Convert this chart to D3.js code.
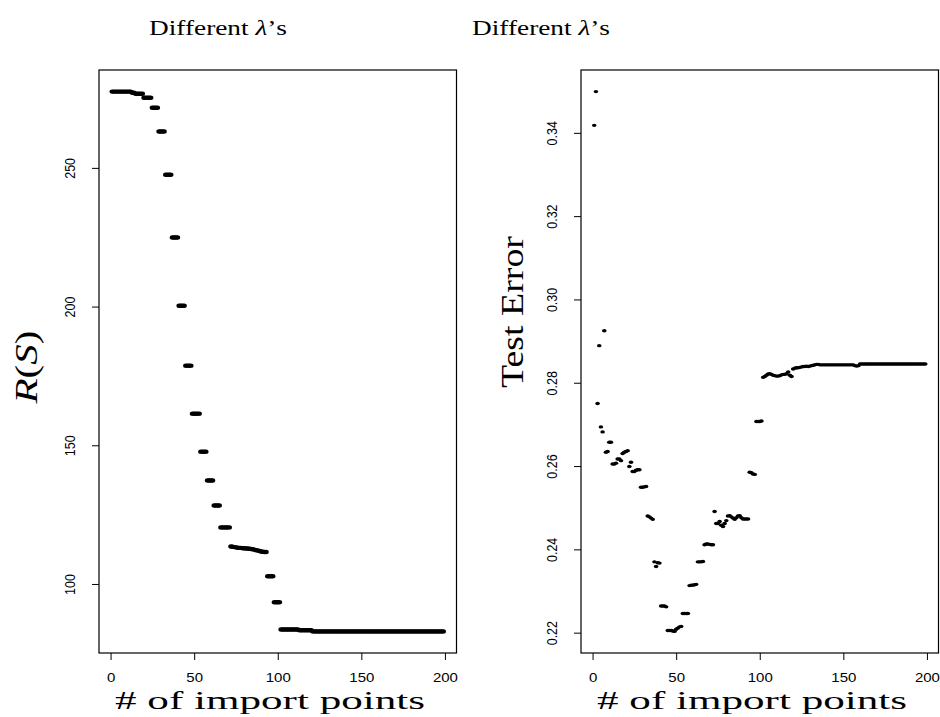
<!DOCTYPE html>
<html>
<head>
<meta charset="utf-8">
<script src="https://cdn.jsdelivr.net/npm/d3@7"></script>
<style>
  body { margin: 0; background: #fff; }
  svg { display: block; }
</style>
</head>
<body>
<div id="chart"></div>
<script>
// R(S) for each number of import points (x = 1..199)
const riskValues = [
  277.5,277.5,277.5,277.5,277.5,277.5,277.5,277.5,277.5,277.5,
  277.5,277.5,277.1,277.1,276.7,276.7,276.7,276.7,276.7,275.3,
  275.3,275.3,275.3,275.3,271.7,271.7,271.7,271.7,263.1,263.1,
  263.1,263.1,247.5,247.5,247.5,247.5,224.9,224.9,224.9,224.9,
  200.3,200.3,200.3,200.3,178.7,178.7,178.7,178.7,161.4,161.4,
  161.4,161.4,161.4,147.7,147.7,147.7,147.7,137.3,137.3,137.3,
  137.3,128.3,128.3,128.3,128.3,120.4,120.4,120.4,120.4,120.4,
  120.4,113.5,113.4,113.3,113.2,113.1,113.0,113.0,112.9,112.9,
  112.8,112.8,112.7,112.6,112.5,112.4,112.2,112.1,111.9,111.7,
  111.6,111.5,111.5,102.8,102.8,102.8,102.8,93.4,93.4,93.4,
  93.4,83.6,83.6,83.6,83.6,83.6,83.6,83.6,83.6,83.6,
  83.6,83.6,83.3,83.3,83.3,83.3,83.3,83.3,83.3,83.3,
  82.9,82.9,82.9,82.9,82.9,82.9,82.9,82.9,82.9,82.9,
  82.9,82.9,82.9,82.9,82.9,82.9,82.9,82.9,82.9,82.9,
  82.9,82.9,82.9,82.9,82.9,82.9,82.9,82.9,82.9,82.9,
  82.9,82.9,82.9,82.9,82.9,82.9,82.9,82.9,82.9,82.9,
  82.9,82.9,82.9,82.9,82.9,82.9,82.9,82.9,82.9,82.9,
  82.9,82.9,82.9,82.9,82.9,82.9,82.9,82.9,82.9,82.9,
  82.9,82.9,82.9,82.9,82.9,82.9,82.9,82.9,82.9,82.9,
  82.9,82.9,82.9,82.9,82.9,82.9,82.9,82.9,82.9
];

// test error for each number of import points (x = 1..199)
const testErrors = [
  0.3418,0.3499,0.2750,0.2889,0.2694,0.2682,0.2925,0.2633,0.2635,0.2657,
  0.2657,0.2605,0.2605,0.2607,0.2617,0.2617,0.2613,0.2630,0.2633,0.2635,
  0.2637,0.2599,0.2609,0.2587,0.2587,0.2590,0.2591,0.2591,0.2549,0.2549,
  0.2550,0.2551,0.2480,0.2478,0.2475,0.2472,0.2370,0.2359,0.2368,0.2367,
  0.2264,0.2264,0.2264,0.2262,0.2205,0.2205,0.2205,0.2204,0.2203,0.2208,
  0.2211,0.2214,0.2215,0.2246,0.2246,0.2246,0.2246,0.2313,0.2314,0.2314,
  0.2315,0.2316,0.2370,0.2370,0.2370,0.2371,0.2411,0.2413,0.2413,0.2412,
  0.2411,0.2411,0.2491,0.2462,0.2462,0.2467,0.2458,0.2455,0.2462,0.2469,
  0.2480,0.2481,0.2478,0.2475,0.2472,0.2476,0.2480,0.2481,0.2476,0.2473,
  0.2473,0.2473,0.2473,0.2585,0.2584,0.2581,0.2580,0.2707,0.2707,0.2707,
  0.2708,0.2813,0.2815,0.2818,0.2821,0.2822,0.2820,0.2818,0.2817,0.2816,
  0.2816,0.2817,0.2819,0.2820,0.2820,0.2822,0.2826,0.2818,0.2815,0.2833,
  0.2835,0.2836,0.2836,0.2837,0.2838,0.2839,0.2839,0.2840,0.2839,0.2840,
  0.2841,0.2842,0.2843,0.2844,0.2844,0.2843,0.2843,0.2843,0.2843,0.2843,
  0.2843,0.2843,0.2843,0.2843,0.2843,0.2843,0.2843,0.2843,0.2843,0.2843,
  0.2843,0.2843,0.2843,0.2843,0.2843,0.2843,0.2841,0.2840,0.2841,0.2845,
  0.2845,0.2845,0.2845,0.2845,0.2845,0.2845,0.2845,0.2845,0.2845,0.2845,
  0.2845,0.2845,0.2845,0.2845,0.2845,0.2845,0.2845,0.2845,0.2845,0.2845,
  0.2845,0.2845,0.2845,0.2845,0.2845,0.2845,0.2845,0.2845,0.2845,0.2845,
  0.2845,0.2845,0.2845,0.2845,0.2845,0.2845,0.2845,0.2845,0.2845
];

const xTicks = [0, 50, 100, 150, 200];
const riskTicks = [100, 150, 200, 250];
const errorTicks = [0.22, 0.24, 0.26, 0.28, 0.30, 0.32, 0.34];
const xLabel = "# of import points";

const W = 940, H = 717;
const plotTop = 70, plotBottom = 653;
const serif = "'Liberation Serif', 'Times New Roman', serif";
const sans = "'Liberation Sans', Arial, Helvetica, sans-serif";

const svg = d3.select("#chart").append("svg")
  .attr("width", W)
  .attr("height", H);

// R style axis limits: data range stretched by 4% on each side
function pad([a, b]) {
  let d = (b - a) * 0.04;
  return [a - d, b + d];
}

// text squeezed/stretched horizontally to a given width (R output was scaled)
function fitText(parent, x, y, rotate, target, squash, size, parts) {
  let g = parent.append("g")
    .attr("transform", `translate(${x},${y})` + (rotate ? " rotate(-90)" : ""));
  let t = g.append("text")
    .attr("text-anchor", "middle")
    .attr("font-family", serif)
    .attr("font-size", size)
    .attr("fill", "#000");
  parts.forEach(p => {
    t.append("tspan").text(p.text).attr("font-style", p.italic ? "italic" : "normal");
  });
  let w = t.node().getComputedTextLength();
  t.attr("transform", `scale(${target / w},${squash})`);
}

function drawPanel(cfg) {
  let data = cfg.values.map((v, i) => ({ x: i + 1, v: v }));

  let x = d3.scaleLinear()
    .domain(pad([1, data.length]))
    .range([cfg.left, cfg.right]);
  let y = d3.scaleLinear()
    .domain(pad(d3.extent(cfg.values)))
    .range([plotBottom, plotTop]);

  let g = svg.append("g");

  // points
  g.append("g").selectAll("ellipse")
    .data(data)
    .join("ellipse")
    .attr("cx", d => x(d.x))
    .attr("cy", d => y(d.v))
    .attr("rx", cfg.rx)
    .attr("ry", cfg.ry)
    .attr("fill", "#000");

  // box
  g.append("rect")
    .attr("x", cfg.left)
    .attr("y", plotTop)
    .attr("width", cfg.right - cfg.left)
    .attr("height", plotBottom - plotTop)
    .attr("fill", "none")
    .attr("stroke", "#000")
    .attr("stroke-width", 1.2);

  // x axis
  let xa = g.append("g")
    .attr("transform", `translate(0,${plotBottom})`)
    .call(d3.axisBottom(x).tickValues(xTicks).tickSize(7).tickFormat(d3.format("d")));
  xa.select(".domain").remove();
  xa.selectAll("line").attr("stroke", "#000");
  xa.selectAll("text")
    .attr("y", 28.7)
    .attr("dy", 0)
    .attr("font-family", sans)
    .attr("font-size", 12.5)
    .attr("fill", "#000")
    .attr("transform", "scale(1.2,1)");

  // y axis
  let ya = g.append("g")
    .attr("transform", `translate(${cfg.left},0)`)
    .call(d3.axisLeft(y).tickValues(cfg.yTicks).tickSize(7).tickFormat(cfg.fmt));
  ya.select(".domain").remove();
  ya.selectAll("line").attr("stroke", "#000");
  ya.selectAll("text")
    .attr("x", 0)
    .attr("y", 0)
    .attr("dy", 0)
    .attr("text-anchor", "middle")
    .attr("font-family", sans)
    .attr("font-size", 12.5)
    .attr("fill", "#000")
    .attr("transform", "translate(-24,0) scale(1.2,1) rotate(-90)");

  // title
  fitText(svg, cfg.titleX, 35, false, 138, 1, 20, [
    { text: "Different " }, { text: "λ", italic: true }, { text: "’s" }
  ]);

  // x label
  fitText(svg, cfg.xLabelX, 709, false, 310, 1, 26, [{ text: xLabel }]);

  // y label
  fitText(svg, cfg.yLabelX, cfg.yLabelY, true, cfg.yLabelLen, 1.15, 27, cfg.yLabel);
}

drawPanel({
  left: 99, right: 456.5,
  values: riskValues,
  yTicks: riskTicks,
  fmt: d3.format("d"),
  rx: 2.7, ry: 2.2,
  titleX: 218,
  xLabelX: 270,
  yLabelX: 37, yLabelY: 367, yLabelLen: 73,
  yLabel: [{ text: "R", italic: true }, { text: "(" }, { text: "S", italic: true }, { text: ")" }]
});

drawPanel({
  left: 581, right: 938.5,
  values: testErrors,
  yTicks: errorTicks,
  fmt: d3.format(".2f"),
  rx: 2.3, ry: 1.7,
  titleX: 541,
  xLabelX: 752,
  yLabelX: 523, yLabelY: 312, yLabelLen: 152,
  yLabel: [{ text: "Test Error" }]
});
</script>
</body>
</html>
